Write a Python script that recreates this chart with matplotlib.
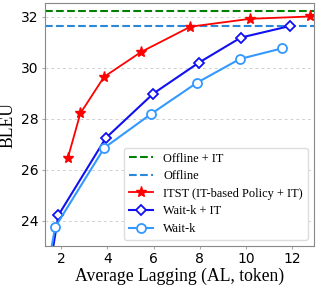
import numpy as np
import matplotlib.pyplot as plt

# values
offline_it = 32.25
offline = 31.65

itst_al = [2.29, 2.83, 3.86, 5.47, 7.6, 10.2, 12.78]
itst_bleu = [26.46, 28.21, 29.65, 30.63, 31.62, 31.93, 32.02]

waitk_it_al = [1.0, 1.88, 3.93, 5.99, 7.97, 9.78, 11.93]
waitk_it_bleu = [19.3, 24.21, 27.24, 28.99, 30.21, 31.19, 31.65]

waitk_al = [0.85, 1.74, 3.87, 5.88, 7.87, 9.74, 11.58]
waitk_bleu = [19.3, 23.74, 26.86, 28.18, 29.41, 30.35, 30.77]

serif = ['Liberation Serif', 'DejaVu Serif']

fig = plt.figure(figsize=(3.18, 2.88), dpi=100)
ax = fig.add_axes([0.1415, 0.1458, 0.8459, 0.8438])

ax.axhline(offline_it, color='green', ls='--', lw=1.5, label='Offline + IT')
ax.axhline(offline, color='#2b88d8', ls='--', lw=1.5, label='Offline')
ax.plot(itst_al, itst_bleu, color='red', lw=1.3, marker='*', ms=8,
        label='ITST (IT-based Policy + IT)')
ax.plot(waitk_it_al, waitk_it_bleu, color='#1010f0', lw=1.5, marker='D', ms=5,
        mfc='white', mew=1.3, label='Wait-k + IT')
ax.plot(waitk_al, waitk_bleu, color='#3399ff', lw=1.5, marker='o', ms=6.5,
        mfc='white', mew=1.3, label='Wait-k')

ax.set_xlim(1.3, 12.95)
ax.set_ylim(23, 32.55)
ax.set_xticks([2, 4, 6, 8, 10, 12])
ax.set_yticks([24, 26, 28, 30, 32])
ax.grid(axis='y', ls=(0, (3, 3)), color='#d0d0d0', lw=0.7)
ax.set_axisbelow(True)
for s in ax.spines.values():
    s.set_color('#888888')
ax.tick_params(labelsize=10, length=2.5, color='#aaaaaa', pad=2)

ax.set_xlabel('Average Lagging (AL, token)', family=serif, fontsize=12.7, labelpad=1)
ax.set_ylabel('BLEU', family=serif, fontsize=12.7, labelpad=3)

ax.legend(loc='lower right', prop={'family': serif, 'size': 8.9}, framealpha=1,
          edgecolor='#dddddd', fancybox=True, labelspacing=0.45)

fig.savefig('out.png', dpi=100)
